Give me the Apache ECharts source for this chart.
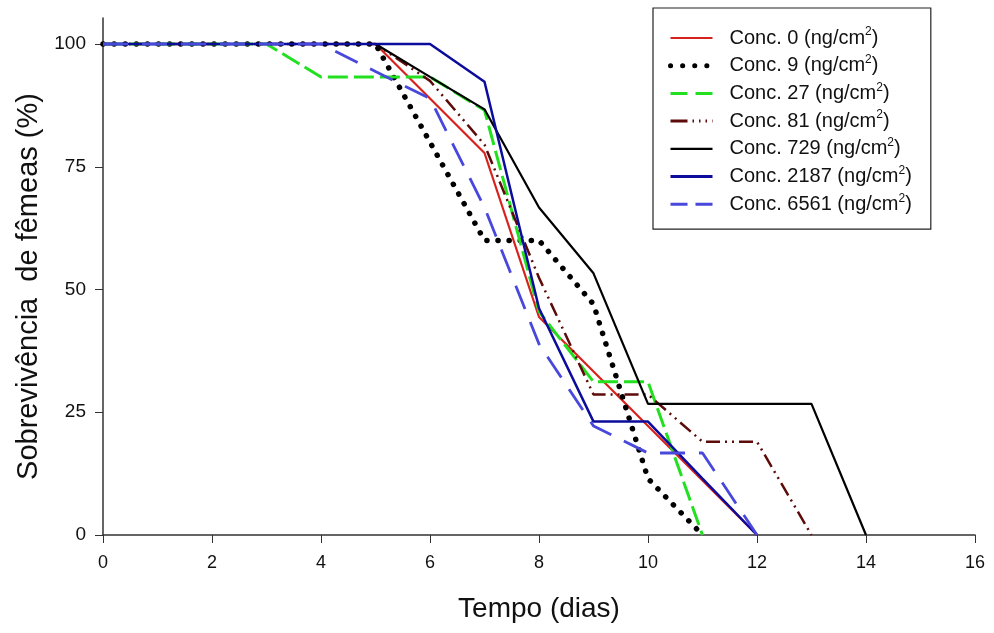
<!DOCTYPE html>
<html>
<head>
<meta charset="utf-8">
<script src="https://cdn.jsdelivr.net/npm/echarts@6/dist/echarts.min.js"></script>
<style>
  html, body { margin: 0; padding: 0; background: #fff; }
  #chart { width: 994px; height: 633px; }
</style>
</head>
<body>
<div id="chart"></div>
<script>
// dados: [dia, sobrevivência %]
var conc0 = [[0, 100], [5, 100], [6, 88.9], [7, 77.8], [8, 44.4], [9, 33.3], [10, 22.2], [11, 11.1], [12, 0]];
var conc9 = [[0, 100], [5, 100], [6, 80], [7, 60], [8, 60], [9, 47], [10, 11.5], [11, 0]];
var conc27 = [[0, 100], [3, 100], [4, 93.3], [5, 93.3], [6, 93.3], [7, 86.5], [8, 45.5], [9, 31.2], [10, 31.2], [11, 0]];
var conc81 = [[0, 100], [5, 100], [6, 92.5], [7, 79.5], [8, 52.4], [9, 28.6], [10, 28.6], [11, 19], [12, 19], [13, 0]];
var conc729 = [[0, 100], [5, 100], [6, 93.3], [7, 86.7], [8, 66.7], [9, 53.3], [10, 26.7], [11, 26.7], [12, 26.7], [13, 26.7], [14, 0]];
var conc2187 = [[0, 100], [5, 100], [6, 100], [7, 92.3], [8, 46.2], [9, 23.1], [10, 23.1], [11, 11.5], [12, 0]];
var conc6561 = [[0, 100], [4, 100], [5, 94.4], [6, 88.9], [7, 66.7], [8, 38.9], [9, 22.2], [10, 16.7], [11, 16.7], [12, 0]];

var concLabels = ['0', '9', '27', '81', '729', '2187', '6561'];
var xTicks = [0, 2, 4, 6, 8, 10, 12, 14, 16];
var yTicks = [0, 25, 50, 75, 100];

var seriesNames = concLabels.map(function (c) { return 'Conc. ' + c + ' (ng/cm²)'; });

// estilo de cada linha (cor, espessura, tracejado)
var estilos = [
  { color: '#d8201c', width: 2.2, type: 'solid', cap: 'butt' },
  { color: '#000000', width: 5.5, type: [0.1, 11], cap: 'round' },
  { color: '#22e020', width: 3, type: [20, 6], cap: 'butt' },
  { color: '#5c0a0a', width: 2.5, type: [14, 5, 2, 5, 2, 5], cap: 'butt' },
  { color: '#000000', width: 2.2, type: 'solid', cap: 'butt' },
  { color: '#0c0c9c', width: 2.5, type: 'solid', cap: 'butt' },
  { color: '#4848dc', width: 2.8, type: [25, 14], cap: 'butt' }
];
// na legenda os tracejados são mais curtos
var estilosLegenda = [
  { width: 2.2, type: 'solid', cap: 'butt' },
  { width: 5, type: [0.1, 12], cap: 'round' },
  { width: 3, type: [17, 8], cap: 'butt' },
  { width: 3, type: [17, 5, 1.5, 5, 1.5, 5, 1.5, 5], cap: 'butt' },
  { width: 2.2, type: 'solid', cap: 'butt' },
  { width: 3, type: 'solid', cap: 'butt' },
  { width: 3, type: [17, 8], cap: 'butt' }
];

var chart = echarts.init(document.getElementById('chart'), null, { renderer: 'canvas' });

var series = [conc0, conc9, conc27, conc81, conc729, conc2187, conc6561].map(function (d, i) {
  var e = estilos[i];
  return {
    name: seriesNames[i],
    type: 'line',
    data: d,
    symbol: 'none',
    animation: false,
    itemStyle: { color: e.color },
    lineStyle: { color: e.color, width: e.width, type: e.type, cap: e.cap }
  };
});

chart.setOption({
  backgroundColor: '#fff',
  textStyle: { fontFamily: 'Liberation Sans, Arial, sans-serif' },
  grid: { left: 103, right: 19, top: 18, bottom: 98 },
  legend: {
    orient: 'vertical',
    left: 653,
    top: 8,
    padding: [18, 19, 15, 15],
    borderColor: '#222',
    borderWidth: 1.2,
    itemWidth: 42,
    itemHeight: 20,
    itemGap: 5.7,
    itemStyle: { opacity: 0, borderWidth: 0 },
    formatter: function (name) {
      var i = seriesNames.indexOf(name);
      return '{n|Conc. ' + concLabels[i] + ' (ng/cm}{sup|2}{n|)}';
    },
    textStyle: {
      color: '#111',
      padding: [0, 0, 0, 12],
      rich: {
        n: { fontSize: 20, lineHeight: 24, color: '#111' },
        sup: { fontSize: 12, lineHeight: 12, verticalAlign: 'top', color: '#111' }
      }
    },
    data: seriesNames.map(function (n, i) {
      var l = estilosLegenda[i];
      return {
        name: n,
        itemStyle: { opacity: 0 },
        lineStyle: { color: estilos[i].color, width: l.width, type: l.type, cap: l.cap, inherit: false }
      };
    })
  },
  xAxis: {
    type: 'value',
    min: 0,
    max: 16,
    interval: 2,
    name: 'Tempo (dias)',
    nameLocation: 'middle',
    nameGap: 60,
    nameTextStyle: { fontSize: 28, color: '#111' },
    axisLine: { lineStyle: { color: '#333', width: 1.5 } },
    axisTick: { show: true, length: 8, inside: false, customValues: xTicks, lineStyle: { color: '#333' } },
    axisLabel: { fontSize: 18, color: '#111', margin: 19, customValues: xTicks },
    splitLine: { show: false }
  },
  yAxis: {
    type: 'value',
    min: 0,
    max: 105.3,
    name: 'Sobrevivência  de fêmeas (%)',
    nameLocation: 'middle',
    nameGap: 58,
    nameTextStyle: { fontSize: 29, color: '#111', padding: [0, 20, 0, 0] },
    axisLine: { show: true, lineStyle: { color: '#333', width: 1.5 } },
    axisTick: { show: true, length: 8, customValues: yTicks, lineStyle: { color: '#333' } },
    axisLabel: { fontSize: 19, color: '#111', margin: 17, customValues: yTicks },
    splitLine: { show: false }
  },
  series: series
});
</script>
</body>
</html>
